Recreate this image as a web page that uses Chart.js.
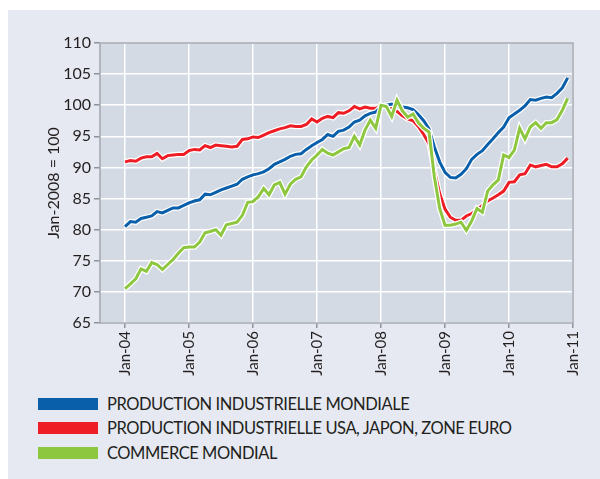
<!DOCTYPE html>
<html>
<head>
<meta charset="utf-8">
<script src="https://cdn.jsdelivr.net/npm/chart.js@4"></script>
<style>
    html, body { margin: 0; padding: 0; background: #ffffff; }
    body { width: 600px; height: 479px; position: relative; overflow: hidden; font-family: Lato, "Open Sans", sans-serif; }
    .fond { position: absolute; left: 8px; top: 10px; width: 592px; height: 469px; background: #e6e9f1; }
    .zone-graphique { position: absolute; left: 0; top: 0; width: 600px; height: 380px; }
    .legende { position: absolute; left: 38px; top: 392px; }
    .legende-item { display: flex; align-items: center; height: 24.3px; }
    .legende-barre { width: 60px; height: 12px; margin-right: 9px; }
    .legende-texte { font-size: 16.5px; letter-spacing: -0.45px; color: #231f20; white-space: nowrap; }
</style>
</head>
<body>
<div class="fond"></div>
<div class="zone-graphique"><canvas id="chartProduction" width="600" height="380"></canvas></div>
<div class="legende" id="legende"></div>
<script>
// Mois depuis Jan-04 (0 = Jan-04 ... 83 = Dec-10)
const ticksAnnees = [0, 12, 24, 36, 48, 60, 72, 84];
const labelsAnnees = ['Jan-04', 'Jan-05', 'Jan-06', 'Jan-07', 'Jan-08', 'Jan-09', 'Jan-10', 'Jan-11'];

const productionMondiale = [
    80.5, 81.3, 81.2, 81.8, 82.0, 82.2, 82.9, 82.7, 83.1, 83.5, 83.5, 83.9,
    84.3, 84.6, 84.8, 85.7, 85.6, 86.0, 86.4, 86.7, 87.0, 87.3, 88.1, 88.5,
    88.8, 89.0, 89.3, 89.8, 90.5, 90.9, 91.3, 91.8, 92.1, 92.2, 92.9, 93.5,
    94.0, 94.5, 95.3, 95.0, 95.8, 96.0, 96.5, 97.3, 97.6, 98.3, 98.7, 98.9,
    99.8, 100.0, 100.2, 99.8, 99.7, 99.6, 99.3, 98.5, 97.5, 96.2, 93.3, 90.9,
    89.2, 88.4, 88.3, 88.9, 89.8, 91.3, 92.1, 92.7, 93.7, 94.6, 95.6, 96.5,
    98.0, 98.6, 99.2, 99.9, 100.9, 100.8, 101.1, 101.3, 101.2, 101.9, 102.8, 104.4
];

const productionUsaJaponEuro = [
    90.9, 91.1, 91.0, 91.5, 91.7, 91.7, 92.25, 91.4, 91.9, 92.0, 92.1, 92.1,
    92.7, 92.9, 92.8, 93.5, 93.2, 93.6, 93.5, 93.4, 93.3, 93.4, 94.5, 94.6,
    94.9, 94.8, 95.2, 95.6, 95.9, 96.2, 96.4, 96.7, 96.6, 96.6, 96.9, 97.8,
    97.3, 97.9, 98.2, 98.0, 98.8, 98.7, 99.1, 99.8, 99.4, 99.7, 99.5, 99.5,
    99.9, 99.9, 99.6, 99.0, 98.3, 97.8, 97.5, 96.6, 95.3, 93.8, 89.5, 85.8,
    83.3, 82.0, 81.5, 81.5, 82.2, 82.6, 83.2, 83.9, 84.6, 85.1, 85.6, 86.2,
    87.6, 87.7, 88.8, 89.0, 90.4, 90.1, 90.3, 90.5, 90.1, 90.1, 90.6, 91.5
];

const commerceMondial = [
    70.5, 71.3, 72.1, 73.7, 73.3, 74.7, 74.4, 73.6, 74.4, 75.2, 76.2, 77.1,
    77.2, 77.2, 78.0, 79.5, 79.7, 80.0, 79.1, 80.8, 81.0, 81.2, 82.3, 84.4,
    84.5, 85.3, 86.6, 85.6, 87.2, 87.6, 85.7, 87.3, 88.1, 88.5, 90.1, 91.2,
    92.0, 92.9, 92.3, 92.0, 92.5, 93.0, 93.2, 95.0, 93.6, 96.0, 97.6, 96.3,
    100.0, 99.8, 98.2, 100.8, 99.1, 98.1, 98.6, 97.2, 96.3, 95.7, 88.5, 83.4,
    80.7, 80.7, 80.9, 81.2, 79.9, 81.4, 83.4, 82.8, 86.2, 87.2, 88.0, 92.0,
    91.6, 92.8, 96.3, 94.6, 96.5, 97.2, 96.3, 97.2, 97.2, 97.7, 99.2, 101.1
];

const series = [
    { label: 'PRODUCTION INDUSTRIELLE MONDIALE', data: productionMondiale, color: '#0a5fab' },
    { label: 'PRODUCTION INDUSTRIELLE USA, JAPON, ZONE EURO', data: productionUsaJaponEuro, color: '#ee1d25' },
    { label: 'COMMERCE MONDIAL', data: commerceMondial, color: '#8dc63f' }
];

function versPoints(valeurs) {
    return valeurs.map((v, i) => ({ x: i, y: v }));
}

// Fond de la zone de tracé et cadre gris
const pluginCadre = {
    id: 'cadre',
    beforeDraw(chart) {
        const { ctx, chartArea: a } = chart;
        ctx.save();
        ctx.fillStyle = '#d3dae4';
        ctx.fillRect(a.left, a.top, a.right - a.left, a.bottom - a.top);
        ctx.restore();
    },
    afterDraw(chart) {
        const { ctx, chartArea: a } = chart;
        ctx.save();
        ctx.strokeStyle = '#a2a6ad';
        ctx.lineWidth = 1.5;
        ctx.strokeRect(a.left, a.top, a.right - a.left, a.bottom - a.top);
        ctx.restore();
    }
};

function construireDatasets() {
    // index 0 dessiné au-dessus : commerce, puis mondiale, puis USA/Japon/Euro
    const ordre = [series[2], series[0], series[1]];
    const datasets = [];
    ordre.forEach(s => {
        const points = versPoints(s.data);
        datasets.push({ data: points, borderColor: s.color, borderWidth: 3, pointRadius: 0, tension: 0, fill: false });
        datasets.push({ data: points, borderColor: '#ffffff', borderWidth: 5.5, pointRadius: 0, tension: 0, fill: false });
    });
    return datasets;
}

function construireLegende() {
    const conteneur = document.getElementById('legende');
    series.forEach(s => {
        const item = document.createElement('div');
        item.className = 'legende-item';
        item.innerHTML = `<span class="legende-barre" style="background:${s.color}"></span><span class="legende-texte">${s.label}</span>`;
        conteneur.appendChild(item);
    });
}

const policeAxes = { family: 'Lato, "Open Sans", sans-serif', size: 16 };

new Chart(document.getElementById('chartProduction').getContext('2d'), {
    type: 'line',
    data: { datasets: construireDatasets() },
    options: {
        responsive: false,
        animation: false,
        layout: { padding: { left: 40, top: 43, right: 27, bottom: 0 } },
        plugins: { legend: { display: false }, tooltip: { enabled: false } },
        scales: {
            x: {
                type: 'linear',
                min: -4.7,
                max: 84,
                afterBuildTicks: (scale) => { scale.ticks = ticksAnnees.map(v => ({ value: v })); },
                afterFit: (scale) => { scale.height = 57; },
                grid: { color: '#ffffff', lineWidth: 1.5, tickColor: '#8e929a', tickLength: 5 },
                border: { display: false },
                ticks: {
                    minRotation: 90,
                    maxRotation: 90,
                    autoSkip: false,
                    padding: 3,
                    color: '#231f20',
                    font: { family: policeAxes.family, size: 15 },
                    callback: (v) => labelsAnnees[ticksAnnees.indexOf(v)] || ''
                }
            },
            y: {
                min: 65,
                max: 110,
                afterFit: (scale) => { scale.width = 60; },
                grid: { color: '#ffffff', lineWidth: 1.5, tickColor: '#8e929a', tickLength: 6 },
                border: { display: false },
                ticks: { stepSize: 5, padding: 3, color: '#231f20', font: policeAxes },
                title: {
                    display: true,
                    text: 'Jan-2008 = 100',
                    color: '#231f20',
                    font: policeAxes,
                    padding: { top: 4, bottom: 0 }
                }
            }
        }
    },
    plugins: [pluginCadre]
});

construireLegende();
</script>
</body>
</html>
